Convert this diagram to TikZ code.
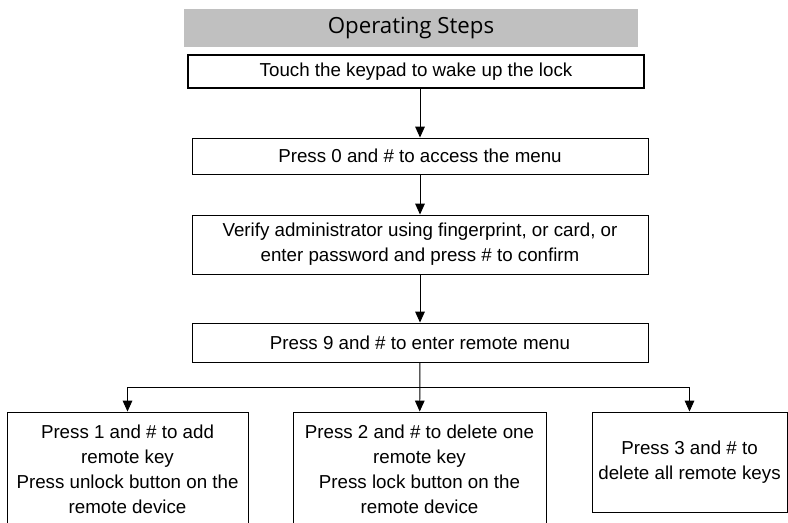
\documentclass[tikz,border=0pt]{standalone}
\usepackage{fontspec}
\setmainfont{Liberation Sans}
\newfontfamily\headfont{Open Sans}
\usetikzlibrary{arrows.meta}
\definecolor{headgray}{RGB}{192,192,192}
\begin{document}
\begin{tikzpicture}[x=0.03cm, y=-0.03cm,
    stepbox/.style={draw, line width=0.8pt, inner sep=0pt, align=center,
      font=\fontsize{16}{21.3}\selectfont},
    flow/.style={-{Triangle[length=0.33cm, width=0.29cm]}, line width=0.8pt}]
  \useasboundingbox (0,0) rectangle (788,522);
  \clip (0,0) rectangle (788,522);
  \node (head) at (411,28) [fill=headgray, minimum width=13.62cm, minimum height=1.14cm,
    inner sep=0pt, font=\headfont\fontsize{19}{23}\selectfont] {Operating Steps};
  \node (wake) at (416,71.5) [stepbox, line width=1.2pt, minimum width=13.68cm, minimum height=0.99cm]
    {Touch the keypad to wake up the lock};
  \node (menu) at (420,156) [stepbox, minimum width=13.68cm, minimum height=1.08cm]
    {Press 0 and \# to access the menu};
  \node (admin) at (420,244.5) [stepbox, minimum width=13.68cm, minimum height=1.77cm]
    {Verify administrator using fingerprint, or card, or\\enter password and press \# to confirm};
  \node (remote) at (420,342.5) [stepbox, minimum width=13.68cm, minimum height=1.17cm]
    {Press 9 and \# to enter remote menu};
  \node (addkey) at (127.5,469) [stepbox, minimum width=7.23cm, minimum height=3.42cm]
    {Press 1 and \# to add\\remote key\\Press unlock button on the\\remote device};
  \node (delone) at (419.5,469) [stepbox, minimum width=7.59cm, minimum height=3.42cm]
    {Press 2 and \# to delete one\\remote key\\Press lock button on the\\remote device};
  \node (delall) at (689.5,462) [stepbox, minimum width=5.85cm, minimum height=3cm]
    {Press 3 and \# to\\delete all remote keys};
  \coordinate (split) at (420,387);
  \draw [flow] (wake.south -| menu) -- (menu);
  \draw [flow] (menu) -- (admin);
  \draw [flow] (admin) -- (remote);
  \draw [flow] (remote) -- (delone);
  \draw [flow] (split) -| (addkey);
  \draw [flow] (split) -| (delall);
\end{tikzpicture}
\end{document}
